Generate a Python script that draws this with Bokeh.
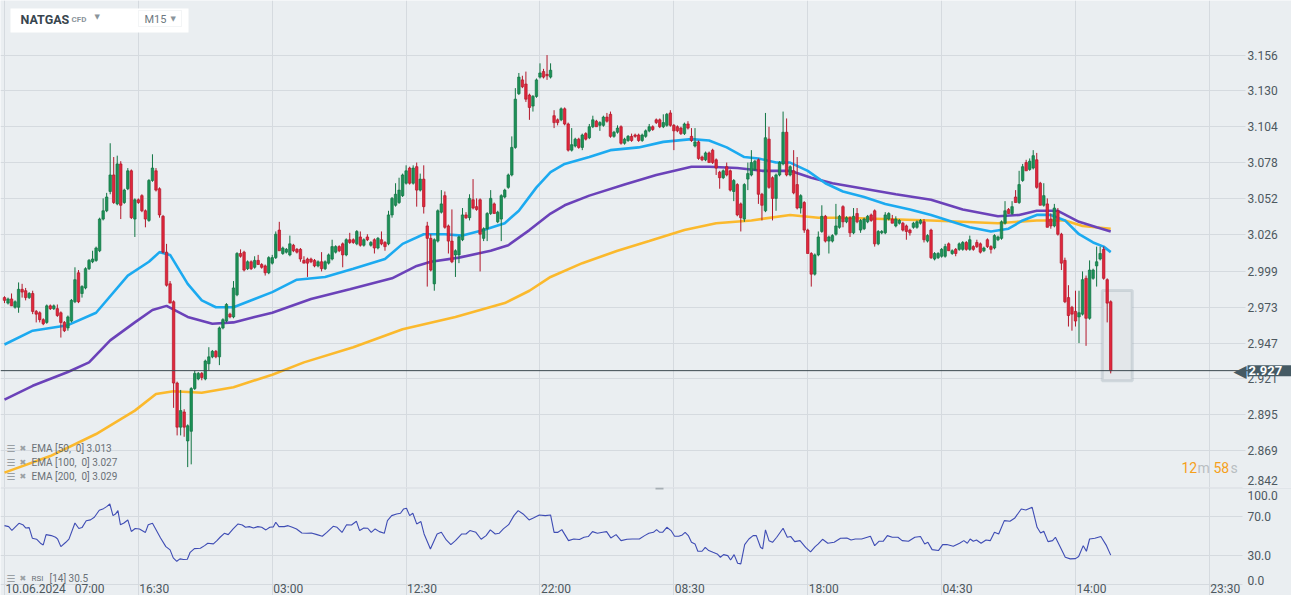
from bokeh.plotting import figure
from bokeh.models import (Range1d, FixedTicker, Label, BoxAnnotation, Span, ColumnDataSource)
from bokeh.layouts import column
from bokeh.embed import file_html
from bokeh.resources import INLINE

# ---------------- data ----------------
symbol = "NATGAS"
timeframe = "M15"
last_price = 2.927

open_ = [2.980, 2.976, 2.979, 2.973, 2.973, 2.986, 2.985, 2.980, 2.983, 2.970,
         2.969, 2.964, 2.962, 2.974, 2.972, 2.972, 2.969, 2.962, 2.958, 2.963,
         2.977, 2.998, 2.983, 2.987, 3.001, 3.006, 3.007, 3.014, 3.037, 3.043,
         3.057, 3.069, 3.048, 3.077, 3.049, 3.059, 3.072, 3.037, 3.051, 3.054,
         3.043, 3.036, 3.065, 3.072, 3.059, 3.039, 3.013, 2.990, 2.977, 2.918,
         2.886, 2.897, 2.876, 2.883, 2.914, 2.921, 2.925, 2.921, 2.932, 2.937,
         2.941, 2.937, 2.958, 2.963, 2.968, 2.966, 2.982, 3.012, 3.013, 3.001,
         3.006, 3.002, 3.007, 3.004, 3.003, 2.998, 3.005, 3.009, 3.029, 3.012,
         3.013, 3.011, 3.018, 3.015, 3.015, 3.007, 3.008, 3.008, 3.007, 3.003,
         3.006, 3.001, 3.005, 3.008, 3.013, 3.017, 3.019, 3.011, 3.022, 3.022,
         3.019, 3.024, 3.018, 3.024, 3.018, 3.022, 3.016, 3.022, 3.020, 3.019,
         3.040, 3.047, 3.049, 3.054, 3.063, 3.074, 3.063, 3.075, 3.058, 3.066,
         3.032, 3.023, 2.990, 3.021, 3.042, 3.054, 3.032, 3.021, 3.011, 3.011,
         3.022, 3.040, 3.038, 3.051, 3.046, 3.051, 3.023, 3.030, 3.041, 3.048,
         3.035, 3.037, 3.053, 3.060, 3.069, 3.089, 3.128, 3.138, 3.135, 3.127,
         3.119, 3.126, 3.140, 3.144, 3.142, 3.140, 3.112, 3.109, 3.109, 3.117,
         3.106, 3.087, 3.090, 3.095, 3.089, 3.099, 3.096, 3.104, 3.108, 3.105,
         3.105, 3.111, 3.113, 3.097, 3.100, 3.104, 3.092, 3.094, 3.097, 3.098,
         3.098, 3.094, 3.097, 3.101, 3.104, 3.109, 3.109, 3.104, 3.105, 3.114,
         3.105, 3.104, 3.103, 3.099, 3.106, 3.097, 3.090, 3.093, 3.082, 3.080,
         3.085, 3.087, 3.080, 3.071, 3.067, 3.075, 3.072, 3.057, 3.062, 3.048,
         3.037, 3.066, 3.069, 3.073, 3.080, 3.055, 3.043, 3.095, 3.067, 3.052,
         3.069, 3.077, 3.100, 3.069, 3.072, 3.062, 3.045, 3.049, 3.029, 3.012,
         2.997, 3.011, 3.028, 3.039, 3.021, 3.021, 3.026, 3.031, 3.046, 3.035,
         3.038, 3.027, 3.041, 3.029, 3.030, 3.035, 3.040, 3.043, 3.019, 3.027,
         3.027, 3.037, 3.037, 3.032, 3.034, 3.034, 3.032, 3.029, 3.031, 3.031,
         3.034, 3.035, 3.021, 3.029, 3.008, 3.009, 3.010, 3.010, 3.019, 3.012,
         3.015, 3.015, 3.015, 3.020, 3.015, 3.017, 3.020, 3.019, 3.014, 3.022,
         3.017, 3.016, 3.022, 3.023, 3.034, 3.044, 3.041, 3.053, 3.049, 3.065,
         3.078, 3.073, 3.074, 3.080, 3.063, 3.047, 3.048, 3.037, 3.032, 3.043,
         3.026, 3.007, 2.980, 2.973, 2.970, 2.966, 2.968, 2.994, 2.965, 2.994,
         3.003, 3.008, 3.015, 2.993, 2.977]
high = [2.981, 2.980, 2.983, 2.978, 2.991, 2.990, 2.987, 2.984, 2.985, 2.971,
        2.970, 2.965, 2.975, 2.975, 2.975, 2.975, 2.970, 2.963, 2.967, 2.979,
        3.002, 3.000, 2.989, 3.002, 3.008, 3.014, 3.017, 3.038, 3.052, 3.056,
        3.092, 3.082, 3.083, 3.079, 3.059, 3.074, 3.073, 3.052, 3.052, 3.055,
        3.044, 3.066, 3.084, 3.074, 3.060, 3.040, 3.019, 2.992, 2.978, 2.919,
        2.913, 2.899, 2.888, 2.915, 2.927, 2.926, 2.926, 2.935, 2.944, 2.942,
        2.942, 2.959, 2.965, 2.976, 2.969, 2.992, 3.013, 3.015, 3.014, 3.007,
        3.007, 3.010, 3.011, 3.005, 3.004, 3.010, 3.011, 3.028, 3.035, 3.017,
        3.016, 3.025, 3.019, 3.016, 3.016, 3.010, 3.009, 3.009, 3.008, 3.007,
        3.013, 3.007, 3.012, 3.022, 3.018, 3.018, 3.020, 3.023, 3.027, 3.023,
        3.029, 3.028, 3.023, 3.026, 3.021, 3.023, 3.024, 3.028, 3.021, 3.043,
        3.053, 3.063, 3.067, 3.070, 3.076, 3.075, 3.076, 3.078, 3.070, 3.076,
        3.035, 3.026, 3.023, 3.044, 3.058, 3.057, 3.033, 3.044, 3.015, 3.025,
        3.045, 3.042, 3.055, 3.066, 3.052, 3.052, 3.031, 3.042, 3.058, 3.049,
        3.043, 3.055, 3.059, 3.070, 3.097, 3.132, 3.143, 3.141, 3.144, 3.128,
        3.127, 3.139, 3.150, 3.146, 3.156, 3.150, 3.116, 3.110, 3.118, 3.118,
        3.107, 3.103, 3.096, 3.096, 3.099, 3.100, 3.106, 3.112, 3.109, 3.108,
        3.112, 3.114, 3.115, 3.101, 3.105, 3.105, 3.096, 3.098, 3.099, 3.099,
        3.099, 3.099, 3.102, 3.106, 3.105, 3.110, 3.110, 3.113, 3.114, 3.116,
        3.106, 3.105, 3.104, 3.107, 3.108, 3.103, 3.103, 3.094, 3.083, 3.086,
        3.086, 3.088, 3.081, 3.072, 3.073, 3.078, 3.073, 3.066, 3.063, 3.049,
        3.063, 3.078, 3.087, 3.080, 3.081, 3.056, 3.114, 3.104, 3.068, 3.070,
        3.079, 3.115, 3.110, 3.076, 3.087, 3.082, 3.055, 3.050, 3.030, 3.013,
        3.012, 3.028, 3.047, 3.040, 3.025, 3.026, 3.048, 3.040, 3.047, 3.039,
        3.039, 3.045, 3.045, 3.037, 3.038, 3.040, 3.041, 3.044, 3.029, 3.029,
        3.042, 3.042, 3.040, 3.039, 3.037, 3.035, 3.033, 3.030, 3.035, 3.036,
        3.037, 3.037, 3.026, 3.030, 3.013, 3.013, 3.016, 3.019, 3.020, 3.015,
        3.016, 3.020, 3.021, 3.021, 3.025, 3.018, 3.022, 3.020, 3.017, 3.023,
        3.018, 3.026, 3.025, 3.036, 3.050, 3.045, 3.050, 3.058, 3.072, 3.077,
        3.080, 3.081, 3.087, 3.085, 3.064, 3.063, 3.052, 3.041, 3.048, 3.045,
        3.027, 3.009, 2.989, 2.974, 2.985, 2.985, 2.999, 2.996, 3.007, 3.001,
        3.017, 3.017, 3.017, 2.994, 2.978]
low = [2.976, 2.975, 2.974, 2.972, 2.969, 2.980, 2.978, 2.979, 2.968, 2.962,
       2.962, 2.960, 2.961, 2.971, 2.971, 2.966, 2.951, 2.955, 2.956, 2.962,
       2.976, 2.976, 2.980, 2.986, 3.000, 3.005, 3.006, 3.013, 3.036, 3.042,
       3.055, 3.048, 3.047, 3.037, 3.048, 3.058, 3.037, 3.024, 3.048, 3.042,
       3.031, 3.035, 3.064, 3.057, 3.038, 3.012, 2.988, 2.976, 2.900, 2.880,
       2.880, 2.879, 2.857, 2.859, 2.913, 2.920, 2.920, 2.920, 2.927, 2.936,
       2.936, 2.931, 2.957, 2.962, 2.965, 2.965, 2.981, 3.009, 2.999, 3.000,
       3.000, 3.001, 3.004, 3.001, 2.996, 2.997, 3.004, 3.008, 3.014, 3.011,
       3.012, 3.010, 3.013, 3.012, 3.006, 3.005, 2.995, 3.005, 3.002, 3.002,
       2.999, 3.000, 3.004, 3.007, 3.012, 3.013, 3.002, 3.010, 3.019, 3.019,
       3.018, 3.017, 3.017, 3.021, 3.017, 3.012, 3.015, 3.018, 3.014, 3.018,
       3.038, 3.046, 3.048, 3.053, 3.062, 3.062, 3.062, 3.046, 3.057, 3.041,
       2.988, 2.999, 2.985, 3.020, 3.041, 3.030, 3.012, 3.005, 2.995, 3.005,
       3.021, 3.037, 3.036, 3.044, 3.043, 2.999, 3.021, 3.021, 3.040, 3.041,
       3.034, 3.021, 3.052, 3.059, 3.068, 3.088, 3.127, 3.132, 3.122, 3.109,
       3.115, 3.125, 3.139, 3.139, 3.138, 3.139, 3.103, 3.105, 3.108, 3.105,
       3.086, 3.086, 3.089, 3.088, 3.087, 3.094, 3.095, 3.103, 3.104, 3.101,
       3.104, 3.107, 3.096, 3.096, 3.099, 3.091, 3.091, 3.093, 3.093, 3.096,
       3.093, 3.093, 3.096, 3.100, 3.101, 3.106, 3.103, 3.103, 3.104, 3.104,
       3.087, 3.100, 3.098, 3.098, 3.102, 3.093, 3.089, 3.080, 3.079, 3.079,
       3.078, 3.077, 3.069, 3.059, 3.066, 3.068, 3.057, 3.050, 3.039, 3.028,
       3.035, 3.058, 3.068, 3.072, 3.048, 3.036, 3.042, 3.059, 3.036, 3.043,
       3.068, 3.076, 3.068, 3.068, 3.055, 3.044, 3.041, 3.027, 3.012, 2.988,
       2.996, 3.010, 3.027, 3.020, 3.012, 3.020, 3.025, 3.030, 3.031, 3.034,
       3.024, 3.026, 3.034, 3.027, 3.029, 3.034, 3.035, 3.017, 3.018, 3.026,
       3.026, 3.036, 3.034, 3.031, 3.033, 3.028, 3.022, 3.025, 3.030, 3.030,
       3.033, 3.020, 3.020, 3.008, 3.007, 3.008, 3.009, 3.009, 3.014, 3.011,
       3.010, 3.014, 3.014, 3.014, 3.014, 3.014, 3.016, 3.012, 3.013, 3.016,
       3.012, 3.015, 3.021, 3.022, 3.033, 3.041, 3.040, 3.049, 3.048, 3.064,
       3.072, 3.072, 3.073, 3.059, 3.047, 3.046, 3.031, 3.030, 3.031, 3.025,
       3.000, 2.976, 2.959, 2.956, 2.959, 2.947, 2.967, 2.945, 2.964, 2.993,
       2.988, 3.007, 2.993, 2.962, 2.925]
close = [2.978, 2.979, 2.974, 2.977, 2.986, 2.984, 2.980, 2.983, 2.970, 2.968,
         2.964, 2.961, 2.974, 2.972, 2.974, 2.967, 2.962, 2.956, 2.966, 2.978,
         2.993, 2.977, 2.988, 3.001, 3.007, 3.008, 3.016, 3.037, 3.043, 3.053,
         3.069, 3.049, 3.077, 3.047, 3.058, 3.072, 3.038, 3.051, 3.049, 3.043,
         3.037, 3.065, 3.074, 3.058, 3.040, 3.013, 2.989, 2.976, 2.918, 2.886,
         2.898, 2.886, 2.887, 2.914, 2.925, 2.925, 2.922, 2.934, 2.937, 2.941,
         2.937, 2.958, 2.964, 2.975, 2.966, 2.987, 3.012, 3.010, 3.000, 3.006,
         3.001, 3.007, 3.004, 3.002, 2.998, 3.009, 3.009, 3.026, 3.014, 3.016,
         3.015, 3.019, 3.014, 3.013, 3.008, 3.005, 3.005, 3.006, 3.003, 3.006,
         3.001, 3.006, 3.011, 3.017, 3.017, 3.014, 3.011, 3.022, 3.020, 3.020,
         3.028, 3.018, 3.022, 3.022, 3.020, 3.016, 3.023, 3.019, 3.017, 3.040,
         3.052, 3.055, 3.058, 3.069, 3.072, 3.063, 3.074, 3.058, 3.066, 3.046,
         3.023, 3.000, 3.022, 3.043, 3.048, 3.031, 3.021, 3.006, 3.014, 3.024,
         3.040, 3.038, 3.052, 3.045, 3.044, 3.026, 3.030, 3.041, 3.052, 3.041,
         3.042, 3.054, 3.058, 3.069, 3.089, 3.124, 3.140, 3.133, 3.124, 3.118,
         3.126, 3.138, 3.143, 3.140, 3.141, 3.145, 3.107, 3.107, 3.117, 3.106,
         3.087, 3.091, 3.095, 3.089, 3.098, 3.095, 3.104, 3.109, 3.104, 3.107,
         3.111, 3.108, 3.097, 3.100, 3.103, 3.092, 3.095, 3.097, 3.094, 3.097,
         3.094, 3.098, 3.101, 3.104, 3.102, 3.107, 3.104, 3.107, 3.113, 3.105,
         3.101, 3.101, 3.099, 3.106, 3.103, 3.094, 3.093, 3.081, 3.080, 3.085,
         3.078, 3.078, 3.074, 3.067, 3.072, 3.069, 3.058, 3.065, 3.040, 3.038,
         3.062, 3.070, 3.078, 3.079, 3.055, 3.047, 3.096, 3.060, 3.052, 3.069,
         3.078, 3.100, 3.069, 3.075, 3.056, 3.045, 3.054, 3.029, 3.012, 2.997,
         3.011, 3.024, 3.039, 3.021, 3.024, 3.025, 3.032, 3.039, 3.035, 3.038,
         3.027, 3.039, 3.035, 3.036, 3.037, 3.039, 3.036, 3.019, 3.028, 3.028,
         3.040, 3.041, 3.034, 3.037, 3.036, 3.029, 3.028, 3.027, 3.034, 3.035,
         3.036, 3.022, 3.025, 3.009, 3.012, 3.012, 3.015, 3.017, 3.014, 3.014,
         3.012, 3.019, 3.020, 3.015, 3.022, 3.015, 3.017, 3.013, 3.016, 3.017,
         3.015, 3.025, 3.024, 3.035, 3.043, 3.041, 3.046, 3.049, 3.062, 3.075,
         3.072, 3.079, 3.083, 3.060, 3.047, 3.054, 3.031, 3.032, 3.045, 3.026,
         3.005, 2.977, 2.967, 2.968, 2.963, 2.969, 2.993, 2.965, 3.000, 3.000,
         3.006, 3.012, 2.994, 2.976, 2.927]

ema50_idx = [0, 8, 18, 26, 35, 41, 44, 47, 52, 56, 60, 65, 71, 76, 83, 91, 99, 108, 113, 119,
             125, 130, 136, 142, 146, 151, 155, 159, 166, 172, 180, 187, 195, 200, 205, 210,
             214, 219, 223, 228, 233, 238, 244, 250, 257, 263, 269, 274, 280, 285, 289, 293,
             297, 301, 305, 309, 312, 314]
ema50_val = [2.946, 2.956, 2.960, 2.969, 2.996, 3.006, 3.013, 3.011, 2.990, 2.978,
             2.973, 2.973, 2.979, 2.984, 2.993, 2.995, 3.001, 3.008, 3.019, 3.026,
             3.026, 3.025, 3.029, 3.034, 3.043, 3.060, 3.071, 3.077, 3.082, 3.087,
             3.089, 3.093, 3.095, 3.094, 3.089, 3.082, 3.081, 3.078, 3.078, 3.072,
             3.063, 3.057, 3.053, 3.048, 3.044, 3.040, 3.035, 3.031, 3.028, 3.030,
             3.036, 3.040, 3.040, 3.036, 3.026, 3.020, 3.017, 3.013]
ema100_idx = [0, 8, 18, 24, 30, 37, 42, 46, 52, 59, 65, 71, 76, 87, 98, 110, 117, 121, 129,
              138, 143, 149, 155, 159, 166, 176, 185, 195, 200, 208, 215, 223, 229, 235, 244,
              253, 263, 272, 282, 288, 293, 299, 305, 310, 314]
ema100_val = [2.906, 2.916, 2.926, 2.933, 2.949, 2.962, 2.971, 2.974, 2.966, 2.961,
              2.962, 2.966, 2.969, 2.979, 2.986, 2.994, 3.003, 3.006, 3.009, 3.014,
              3.018, 3.029, 3.041, 3.047, 3.054, 3.062, 3.069, 3.075, 3.075, 3.074,
              3.072, 3.072, 3.067, 3.063, 3.059, 3.055, 3.051, 3.044, 3.039, 3.040,
              3.043, 3.043, 3.035, 3.031, 3.028]
ema200_idx = [0, 13, 26, 37, 43, 48, 56, 65, 76, 85, 99, 113, 128, 142, 149, 155, 164, 174,
              183, 193, 202, 212, 223, 231, 238, 263, 282, 293, 301, 306, 314]
ema200_val = [2.853, 2.865, 2.881, 2.898, 2.910, 2.912, 2.911, 2.915, 2.924, 2.933,
              2.944, 2.957, 2.966, 2.976, 2.985, 2.995, 3.005, 3.014, 3.021, 3.029,
              3.034, 3.036, 3.040, 3.038, 3.038, 3.036, 3.034, 3.036, 3.036, 3.032, 3.030]

rsi_idx = [0, 1.2, 2.1, 4.1, 5.2, 6.0, 7.0, 7.9, 9.1, 10.2, 11.0, 11.8, 13.3, 14.5, 15.1, 16.0,
           17.4, 18.3, 20.0, 21.1, 22.0, 23.2, 24.4, 25.5, 26.9, 28.1, 29.0, 29.9, 30.8, 31.5,
           32.2, 32.9, 33.9, 35.0, 36.0, 37.1, 38.3, 40.0, 40.8, 42.0, 42.9, 44.3, 45.8, 47.0,
           47.9, 48.9, 49.8, 50.8, 51.9, 52.7, 53.9, 55.6, 56.8, 57.7, 59.3, 60.3, 61.2, 62.4,
           63.5, 64.9, 66.3, 67.5, 68.4, 69.5, 70.7, 71.9, 73.0, 74.2, 75.3, 76.3, 77.0, 77.9,
           79.4, 80.5, 81.7, 82.9, 84.4, 85.8, 87.1, 88.7, 90.2, 91.5, 93.3, 94.4, 95.8, 97.1,
           98.5, 99.9, 100.8, 102.0, 103.1, 104.1, 105.2, 106.4, 107.8, 108.7, 109.9, 111.3,
           112.4, 113.3, 114.1, 115.0, 115.9, 117.0, 118.2, 119.1, 120.9, 122.8, 124.0, 125.4,
           126.7, 128.0, 129.8, 131.0, 132.1, 133.8, 135.3, 136.7, 137.9, 139.3, 140.4, 141.6,
           143.1, 144.6, 145.8, 147.2, 148.9, 150.1, 151.8, 153.5, 155.0, 156.0, 157.0, 158.2,
           160.1, 161.6, 163.2, 164.5, 165.7, 166.9, 168.3, 169.8, 170.9, 172.1, 173.6, 175.0,
           176.7, 178.2, 180.2,
           181.7, 182.9, 184.2, 185.1, 186.0, 186.8, 188.0, 189.2, 190.2, 191.4,
           192.4, 193.2, 194.1, 195.0, 196.0, 196.8, 198.0, 198.9, 199.9, 201.1,
           202.3, 203.2, 204.1, 205.3, 206.1, 207.1, 208.1, 209.0, 210.1, 211.3,
           212.5, 213.4, 214.6, 215.2, 216.0, 217.0, 218.0, 219.2, 221.0, 222.2,
           223.2, 224.3, 225.8, 227.4, 228.8, 230.1, 231.0, 232.2, 233.7, 235.5,
           237.3, 239.1, 240.3, 241.5, 243.3, 245.8, 247.0, 248.2, 249.4, 250.6,
           252.0, 253.6, 254.8, 256.6, 258.4, 260.0, 261.2, 262.1, 263.3, 265.1,
           266.3, 267.5, 269.3, 271.1, 272.3, 273.3, 274.1, 275.0, 275.9, 277.2,
           278.6, 279.8, 281.0, 282.2, 283.8, 285.4, 286.8, 288.6, 289.9, 291.7,
           293.1, 294.1, 295.0, 296.2, 297.5, 298.3, 299.5, 301.1, 302.5, 304.0,
           304.9, 306.2, 307.1, 308.0, 309.5, 311.2, 312.8, 314.0]
rsi_val = [61, 60, 56, 63.4, 62, 58.6, 59, 48, 47, 42.8,
           41, 51.7, 50.7, 49, 47, 39.3, 43.8, 47, 63.8, 58,
           59, 66, 67, 69.7, 77, 78.6, 80.7, 83.4, 71.4, 73,
           76.6, 62, 63.8, 66.9, 55, 58, 57.6, 54, 62, 63.4,
           57.6, 48.3, 39.3, 35.9, 27.6, 24.1, 26.6, 25.9, 26.2, 33.4,
           37.2, 37.6, 40.3, 42.8, 42.1, 45.5, 49, 53.1, 51.7, 57.6,
           62.8, 61.7, 59.3, 60, 58.6, 60, 59.3, 56.6, 59.3, 59.7,
           64.5, 60, 60, 61, 59.3, 57.6, 53.4, 53.1, 53.4, 51.7,
           50, 54, 60.3, 59.3, 54, 62, 61.7, 65.5, 55.9, 58.6,
           58.3, 54, 57.6, 54.8, 53.1, 66.2, 71.4, 73.1, 73.8, 78.3,
           79, 71.4, 73.8, 62.8, 65.2, 52.4, 36.9, 52.4, 54.1, 46.2,
           41.4, 45.5, 52.4, 52.4, 55.9, 54.1, 46.9, 50.7, 56.6, 52.4,
           53.1, 57.6, 62, 71.4, 76.6, 73.1, 66.9, 69, 72.1, 71.4,
           72.1, 54, 54, 56.9, 45.5, 47.2, 46.6, 49, 49.7, 54.8,
           53.1, 54.1, 54.8, 48.3, 51.7, 45.5, 46.9, 47.2, 47.2,
           50.7, 53.1, 54.1, 56.9, 54.1, 54.1, 59.3, 55.9, 50, 50,
           51.4, 54.1, 50.7, 43.8, 42.1, 34.5, 34.5, 38.6, 35.2, 33.4,
           31.7, 28.3, 31, 30, 25.5, 31, 22.1, 21.4, 41.4, 47.2,
           50.7, 50.7, 38.6, 36.9, 56.6, 45.5, 43.8, 49, 58.3, 49,
           49.7, 44.5, 45.5, 38.6, 33.8, 39.3, 42.1, 46.9, 42.8, 43.8,
           47.9, 48.3, 46.2, 47.2, 47.2, 50, 40.3, 44.8, 44.8, 50.7,
           49, 49, 45.5, 44.8, 49, 49.7, 42.1, 43.8, 36.2, 35.2,
           41.4, 41.4, 39.7, 42.8, 45.5, 42.8, 47.2, 44.8, 46.2, 42.8,
           46.2, 45.5, 54.1, 52.4, 66.2, 65.5, 69, 78.3, 77.2, 80,
           59.3, 53.4, 55.2, 44.5, 45.5, 49, 40.3, 28.3, 26.6, 26.9,
           29, 40.3, 34.5, 47.2, 47.9, 49.7, 40.3, 30.5]

price_ticks = [2.842, 2.869, 2.895, 2.921, 2.947, 2.973, 2.999, 3.026, 3.052, 3.078, 3.104, 3.130, 3.156]
price_labels = ["2.842", "2.869", "2.895", "2.921", "2.947", "2.973", "2.999", "3.026", "3.052",
                "3.078", "3.104", "3.130", "3.156"]
rsi_ticks = [0, 30, 70, 100]
rsi_labels = ["0.0", "30.0", "70.0", "100.0"]
time_ticks = [0, 38, 76, 114, 152, 190, 228, 266, 304, 342]
time_labels = ["10.06.2024\u00a0\u00a0\u00a007:00", "16:30", "03:00", "12:30", "22:00", "08:30",
               "18:00", "04:30", "14:00", "23:30"]
NB = "\u00a0"
legend_rows = [("EMA", f"[50,{NB}{NB}0]", "3.013"), ("EMA", f"[100,{NB}{NB}0]", "3.027"),
               ("EMA", f"[200,{NB}{NB}0]", "3.029")]
rsi_legend = ("RSI", "[14]", "30.5")
highlight = dict(left=311.6, right=320.1, bottom=2.9196, top=2.9852)
countdown = [("12", "#f5a01a", 1181), ("m", "#b9bec2", 1197), ("58", "#f5a01a", 1213), ("s", "#b9bec2", 1230)]

# ---------------- style ----------------
BG = "#eaeef1"
GRID = "#d5dadf"
TXT = "#4d585f"
FONT = "Roboto"
GREEN, GREEN_E = "#1c9157", "#117443"
RED, RED_E = "#e0273c", "#b3172a"
C50, C100, C200 = "#1caaf0", "#6b42b9", "#fbb92d"
W, MAIN_H, RSI_H = 1291, 487, 108
PX_PER_BAR = 3.523
X0 = -1.135
x_range = Range1d(X0, X0 + W / PX_PER_BAR)
AXIS_X = 1247                      # left edge of the value labels (screen px)
GRID_END = X0 + 1245 / PX_PER_BAR  # horizontal grid lines stop at the label column
RSI_GRID_END = X0 + 1242 / PX_PER_BAR


def limit_grid(fig, ticks, end):
    g = fig.ygrid[0]
    g.ticker = FixedTicker(ticks=ticks)
    g.grid_line_color = GRID
    if "cross_bounds" in g.properties():
        g.cross_bounds = (x_range.start, end)
    else:
        g.visible = False
        fig.segment(x0=[x_range.start] * len(ticks), x1=[end] * len(ticks), y0=ticks, y1=ticks,
                    line_color=GRID, line_width=1, level="underlay")


def base_fig(height, y_range):
    f = figure(width=W, height=height, x_range=x_range, y_range=y_range,
               output_backend="svg", toolbar_location=None,
               min_border_left=0, min_border_right=0, min_border_top=0, min_border_bottom=0,
               background_fill_color=BG, border_fill_color=BG, outline_line_color=None)
    f.xaxis.visible = False
    f.yaxis.visible = False
    f.xgrid.ticker = FixedTicker(ticks=time_ticks)
    f.xgrid.grid_line_color = GRID
    return f


def axis_label(fig, y, text, **kw):
    fig.add_layout(Label(x=AXIS_X, y=y, x_units="screen", y_units="data", text=text,
                         text_baseline="middle", text_color=TXT, text_font=FONT,
                         text_font_size="12px", **kw))


# ---------------- price panel ----------------
p = base_fig(MAIN_H, Range1d(2.8422, 3.1956))
limit_grid(p, price_ticks, GRID_END)
label_pos = [2.8473] + price_ticks[1:]
for v, t in zip(label_pos, price_labels):
    axis_label(p, v, t)

p.add_layout(BoxAnnotation(level="underlay", fill_color="#e3e7ea", fill_alpha=1.0,
                           line_color="#93a3ac", line_width=3, **highlight))

p.line(ema200_idx, ema200_val, line_color=C200, line_width=2.6)
p.line(ema100_idx, ema100_val, line_color=C100, line_width=2.6)
p.line(ema50_idx, ema50_val, line_color=C50, line_width=2.6)

n = len(close)
up = [c >= o for o, c in zip(open_, close)]
src = ColumnDataSource(dict(
    x=list(range(n)), h=high, l=low,
    top=[max(o, c) for o, c in zip(open_, close)],
    bottom=[min(o, c) for o, c in zip(open_, close)],
    fill=[GREEN if u else RED for u in up],
    edge=[GREEN_E if u else RED_E for u in up]))
p.segment(x0="x", y0="l", x1="x", y1="h", source=src, line_color="edge", line_width=1)
p.vbar(x="x", width=0.7, top="top", bottom="bottom", source=src,
       fill_color="fill", line_color="edge", line_width=0.7)

p.add_layout(Span(location=last_price, dimension="width", line_color="#3b474e", line_width=1))

# price tag on the value column
p.add_layout(Label(x=1233, y=last_price, x_units="screen", y_units="data", text="◀",
                   text_baseline="middle", text_color="#455a64", text_font="DejaVu Sans",
                   text_font_size="17px"))
p.add_layout(Label(x=AXIS_X, y=last_price, x_units="screen", y_units="data",
                   text=f"{last_price:.3f}", text_baseline="middle", text_color="white",
                   text_font=FONT, text_font_style="bold", text_font_size="13px",
                   background_fill_color="#455a64", background_fill_alpha=1,
                   padding=dict(left=1, right=14, top=1, bottom=1)))

# header box
p.add_layout(BoxAnnotation(left=10, right=188, bottom=455, top=479, left_units="screen",
                           right_units="screen", top_units="screen", bottom_units="screen",
                           fill_color="white", fill_alpha=1, line_color=None))
p.add_layout(BoxAnnotation(left=138, right=181, bottom=461, top=477, left_units="screen",
                           right_units="screen", top_units="screen", bottom_units="screen",
                           fill_color="white", fill_alpha=1, line_color="#d8dde1", line_width=1))
p.add_layout(Label(x=20, y=468.5, x_units="screen", y_units="screen", text=symbol,
                   text_baseline="middle", text_color="#38454e", text_font=FONT,
                   text_font_style="bold", text_font_size="12.5px"))
p.add_layout(Label(x=71, y=468, x_units="screen", y_units="screen", text="CFD",
                   text_baseline="middle", text_color="#8a949b", text_font=FONT,
                   text_font_style="bold", text_font_size="8px"))
p.add_layout(Label(x=94, y=471, x_units="screen", y_units="screen", text="▼",
                   text_baseline="middle", text_color="#8a949b", text_font="DejaVu Sans",
                   text_font_size="7px"))
p.add_layout(Label(x=144, y=468.5, x_units="screen", y_units="screen", text=timeframe,
                   text_baseline="middle", text_color="#6e7880", text_font=FONT,
                   text_font_size="11px"))
p.add_layout(Label(x=170, y=469, x_units="screen", y_units="screen", text="▼",
                   text_baseline="middle", text_color="#8a949b", text_font="DejaVu Sans",
                   text_font_size="7px"))

# legend rows
for k, (name, params, val) in enumerate(legend_rows):
    yy = 39 - 14 * k
    p.add_layout(Label(x=6, y=yy, x_units="screen", y_units="screen", text="☰",
                       text_baseline="middle", text_color="#9aa0a4", text_font="DejaVu Sans",
                       text_font_size="10px"))
    p.add_layout(Label(x=19, y=yy, x_units="screen", y_units="screen", text="✖",
                       text_baseline="middle", text_color="#9aa0a4", text_font="DejaVu Sans",
                       text_font_size="8px"))
    p.add_layout(Label(x=31, y=yy, x_units="screen", y_units="screen",
                       text=f"{name} {params} {val}", text_baseline="middle",
                       text_color="#6a7177", text_font=FONT, text_font_size="10px"))

# countdown
for txt, col, cx in countdown:
    p.add_layout(Label(x=cx, y=20, x_units="screen", y_units="screen", text=txt,
                       text_baseline="middle", text_color=col, text_font=FONT,
                       text_font_size="14px"))

# ---------------- RSI panel ----------------
r = base_fig(RSI_H, Range1d(-11.3, 100.5))
limit_grid(r, rsi_ticks, RSI_GRID_END)
r.add_layout(Span(location=100, dimension="width", line_color=GRID, line_width=1))
rsi_label_pos = [4.1, 30, 70, 91.8]
for v, t in zip(rsi_label_pos, rsi_labels):
    axis_label(r, v, t)

r.add_layout(BoxAnnotation(left=655, right=663, bottom=106, top=108, left_units="screen",
                           right_units="screen", top_units="screen", bottom_units="screen",
                           fill_color="#a7afb5", fill_alpha=1, line_color=None))

r.line(rsi_idx, rsi_val, line_color="#3e4cb4", line_width=1.1)

for t, lab in zip(time_ticks, time_labels):
    r.add_layout(Label(x=t, y=0, x_units="data", y_units="screen", x_offset=1, text=lab,
                       text_baseline="bottom", text_align="left", text_color=TXT,
                       text_font=FONT, text_font_size="12px"))

r.add_layout(Label(x=6, y=17.5, x_units="screen", y_units="screen", text="☰",
                   text_baseline="middle", text_color="#9aa0a4", text_font="DejaVu Sans",
                   text_font_size="10px"))
r.add_layout(Label(x=19, y=17.5, x_units="screen", y_units="screen", text="✖",
                   text_baseline="middle", text_color="#9aa0a4", text_font="DejaVu Sans",
                   text_font_size="8px"))
r.add_layout(Label(x=31, y=17, x_units="screen", y_units="screen", text=rsi_legend[0],
                   text_baseline="middle", text_color="#6a7177", text_font=FONT,
                   text_font_size="8px"))
r.add_layout(Label(x=49, y=17.5, x_units="screen", y_units="screen",
                   text=f"{rsi_legend[1]} {rsi_legend[2]}", text_baseline="middle",
                   text_color="#6a7177", text_font=FONT, text_font_size="10px"))

layout = column(p, r, spacing=0)
open("out.html", "w").write(file_html(layout, INLINE))
